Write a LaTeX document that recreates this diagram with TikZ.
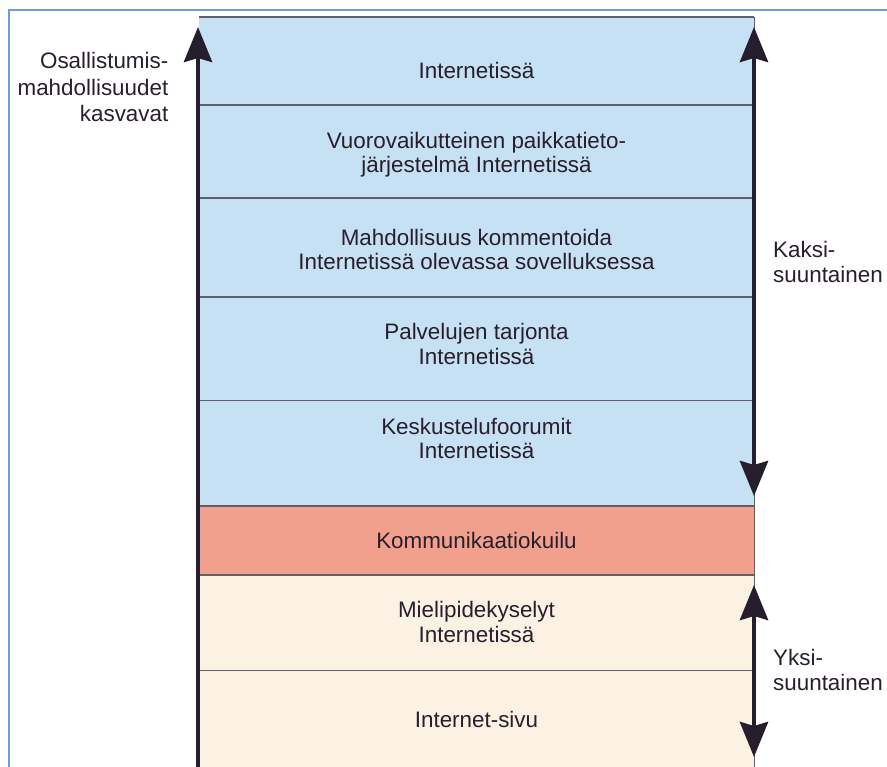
\documentclass[tikz,border=0pt]{standalone}
\usepackage{fontspec}
\setmainfont{Liberation Sans}
\usetikzlibrary{arrows.meta}
\definecolor{bandblue}{RGB}{198,224,244}
\definecolor{bandred}{RGB}{240,160,140}
\definecolor{bandcream}{RGB}{252,242,228}
\definecolor{arrowdark}{RGB}{38,30,45}
\definecolor{divgray}{RGB}{95,95,105}
\definecolor{frameblue}{RGB}{110,155,215}
\definecolor{txt}{RGB}{40,30,45}
\begin{document}
\begin{tikzpicture}[x=1pt,y=-1pt,
  lbl/.style={font=\fontsize{22.4}{24.5}\selectfont, text=txt, inner sep=0pt, align=center, anchor=base},
  sidelbl/.style={font=\fontsize{22.4}{25}\selectfont, text=txt, inner sep=0pt, align=left, anchor=base west},
  leftlbl/.style={font=\fontsize{22.4}{26.5}\selectfont, text=txt, inner sep=0pt, align=right, anchor=base east},
  bigtip/.tip={Stealth[length=35pt,width=28pt,inset=4pt]},
  bigarrow/.style={draw=arrowdark, line width=4.5pt, -bigtip},
  bigarrowboth/.style={draw=arrowdark, line width=4.5pt, bigtip-bigtip},
  divider/.style={draw=divgray, line width=1.3pt}]
\useasboundingbox (0,0) rectangle (887,767);
\clip (0,0) rectangle (887,767);
% outer frame
\draw[frameblue, line width=2pt] (9,790) -- (9,10) -- (900,10);
% bands
\fill[bandblue] (199,17) rectangle (754,506);
\fill[bandred] (199,506) rectangle (754,575);
\fill[bandcream] (199,575) rectangle (754,790);
% dividers
\foreach \yy in {105,198,297,400.5,506,575,670.5}
  \draw[divider] (199,\yy) -- (754,\yy);
\draw[divgray, line width=1.6pt] (199,17) -- (754,17);
\draw[divgray, line width=1pt] (754,17) -- (754,790);
% texts in bands (base anchor = baseline of last line)
\node[lbl] (t1) at (476.5,79) {Internetissä};
\node[lbl] (t2) at (476.5,173) {Vuorovaikutteinen paikkatieto-\\järjestelmä Internetissä};
\node[lbl] (t3) at (476.5,270) {Mahdollisuus kommentoida\\Internetissä olevassa sovelluksessa};
\node[lbl] (t4) at (476.5,364.5) {Palvelujen tarjonta\\Internetissä};
\node[lbl] (t5) at (476.5,458.5) {Keskustelufoorumit\\Internetissä};
\node[lbl] (t6) at (476.5,548.5) {Kommunikaatiokuilu};
\node[lbl] (t7) at (476.5,642) {Mielipidekyselyt\\Internetissä};
\node[lbl] (t8) at (476.5,727) {Internet-sivu};
% side labels
\node[leftlbl] (osal) at (168.5,122) {Osallistumis-\\mahdollisuudet\\kasvavat};
\node[sidelbl] (kaksi) at (773,283) {Kaksi-\\suuntainen};
\node[sidelbl] (yksi) at (773,690) {Yksi-\\suuntainen};
% arrows
\coordinate (lstart) at (198,790);
\coordinate (lend) at (198,27);
\coordinate (rtop) at (754,27);
\coordinate (rmid) at (754,496);
\coordinate (rlow) at (754,585);
\coordinate (rbot) at (754,757);
\draw[bigarrow] (lstart) -- (lend);
\draw[bigarrowboth] (rmid) -- (rtop);
\draw[bigarrowboth] (rlow) -- (rbot);
\end{tikzpicture}
\end{document}
